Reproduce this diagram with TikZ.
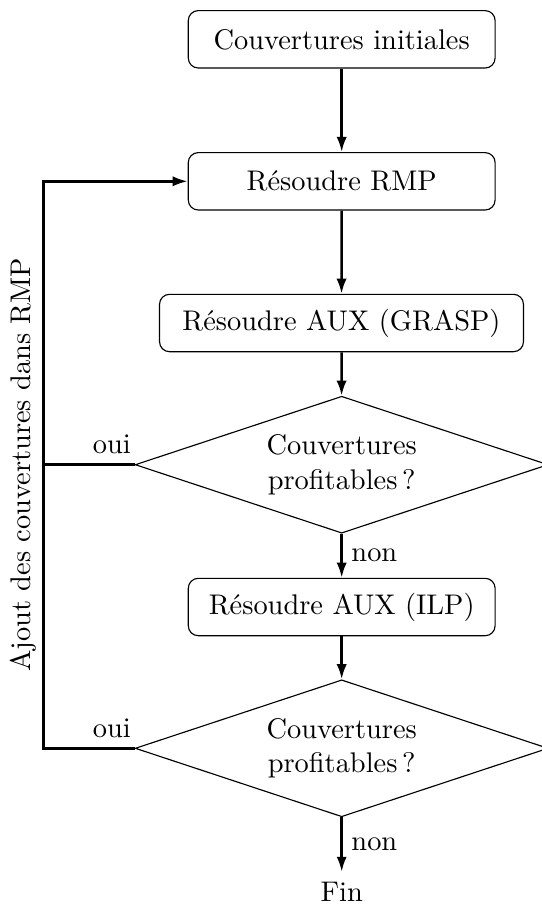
\documentclass[tikz,border=0pt]{standalone}
\usetikzlibrary{shapes.geometric,arrows.meta}
\begin{document}
\begin{tikzpicture}[x=0.352pt,y=-0.352pt,
  procbox/.style={draw,line width=0.4pt,rounded corners=3.5pt,minimum height=20.2pt,inner sep=0pt},
  decbox/.style={draw,line width=0.4pt,diamond,aspect=3,minimum width=145.4pt,minimum height=48.2pt,inner sep=0pt,align=center},
  flow/.style={line width=0.9pt,-{Latex[length=5.3pt,width=3.6pt]}},
  plain/.style={line width=0.9pt}]
\useasboundingbox (0,0) rectangle (542,907);
\node[procbox,minimum width=108pt] (b1) at (341.7,39.3) {Couvertures initiales};
\node[procbox,minimum width=108pt] (b2) at (341.7,181.3) {Résoudre RMP};
\node[procbox,minimum width=128.1pt] (b3) at (341.5,323) {Résoudre AUX (GRASP)};
\node[decbox] (d1) at (341.7,464.7) {Couvertures\\profitables\,?};
\node[procbox,minimum width=108pt] (b4) at (341.7,607) {Résoudre AUX (ILP)};
\node[decbox] (d2) at (341.7,748.3) {Couvertures\\profitables\,?};
\node (fin) at (341.7,891.5) {Fin};
\coordinate (lx) at (43.3,0);
\draw[flow] (b1) -- (b2);
\draw[flow] (b2) -- (b3);
\draw[flow] (b3) -- (d1);
\draw[flow] (d1) -- node[right,inner sep=3pt]{non} (b4);
\draw[flow] (b4) -- (d2);
\draw[flow] (d2) -- node[right,inner sep=3pt]{non} (fin);
\draw[plain] (d1.west) -- node[above,pos=0.25]{oui} (d1.west -| lx);
\draw[flow] (d2.west) -- node[above,pos=0.25]{oui} (d2.west -| lx)
  -- node[above,sloped,midway,inner sep=2pt]{Ajout des couvertures dans RMP} (b2.west -| lx) -- (b2.west);
\end{tikzpicture}
\end{document}
